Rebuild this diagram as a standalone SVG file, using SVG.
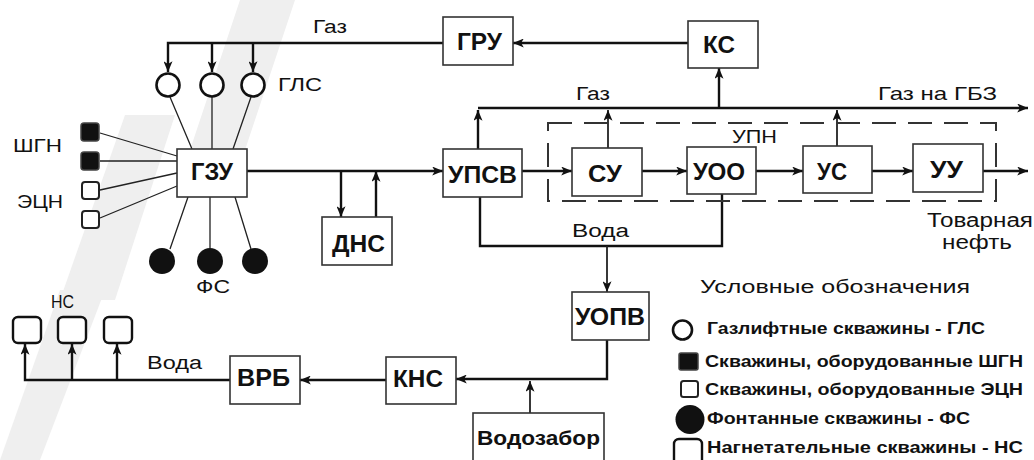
<svg xmlns="http://www.w3.org/2000/svg" width="1034" height="460" viewBox="0 0 1034 460">
<defs>
<marker id="ah" viewBox="0 0 12 10" refX="12" refY="5" markerWidth="11" markerHeight="9" markerUnits="userSpaceOnUse" orient="auto">
<path d="M0,0 L12,5 L0,10 L3,5 z" fill="#111"/>
</marker>
<style>
.box{fill:#fff;stroke:#333;stroke-width:1.6}
.lbl{font-family:"Liberation Sans",Arial,sans-serif;font-weight:bold;font-size:24px;fill:#111}
.txt{font-family:"Liberation Sans",Arial,sans-serif;font-size:18px;fill:#111}
.leg{font-family:"Liberation Sans",Arial,sans-serif;font-weight:bold;font-size:17px;fill:#111}
.ln{fill:none;stroke:#111;stroke-width:2.4}
.thin{fill:none;stroke:#222;stroke-width:1.3}
.arr{marker-end:url(#ah)}
.gls{fill:#fff;stroke:#111;stroke-width:2.6}
.fs{fill:#111}
.sq{fill:#111;stroke:#444;stroke-width:1.5}
.sqw{fill:#fff;stroke:#222;stroke-width:2}
.ns{fill:#fff;stroke:#111;stroke-width:2.4}
</style>
</defs>
<rect width="1034" height="460" fill="#fff"/>
<g id="watermark" fill="#efefef">
<polygon points="190,150 245,150 295,0 240,0"/>
<polygon points="60,300 115,300 175,115 125,115"/>
<polygon points="0,460 40,460 105,290 60,290"/>
</g>
<g id="connectors">
<path class="ln arr" d="M688,43 H513"/>
<path class="ln arr" d="M443,43 H168 V72"/>
<path class="ln arr" d="M212,43 V72"/>
<path class="ln arr" d="M253,43 V72"/>
<path class="thin" d="M170,97 L192,149 M212,97 V149 M251,97 L233,149"/>
<path class="thin" d="M100,133 L177,156 M100,161 H177 M100,190 L177,173 M100,218 L177,186"/>
<path class="thin" d="M188,197 L170,249 M210,197 V248 M235,197 L251,249"/>
<path class="ln arr" d="M247,171 H443"/>
<path class="ln arr" d="M341,171 V217"/>
<path class="ln arr" d="M376,217 V171"/>
<path class="ln arr" d="M478,108 H1028"/>
<path class="ln arr" d="M478,149 V110"/>
<path class="thin arr" d="M608,148 V110" style="stroke-width:1.8"/>
<path class="thin arr" d="M837,146 V110" style="stroke-width:1.8"/>
<path class="ln arr" d="M719,108 V68"/>
<path class="ln arr" d="M522,171 H572"/>
<path class="ln arr" d="M642,171 H687"/>
<path class="ln arr" d="M756,171 H803"/>
<path class="ln arr" d="M872,171 H913"/>
<path class="ln arr" d="M983,171 H1028"/>
<path class="ln" d="M480,197 V246 H722 V194"/>
<path class="thin arr" d="M607,246 V292" style="stroke-width:1.8"/>
<path class="ln arr" d="M607,340 V379 H456"/>
<path class="thin arr" d="M530,413 V381" style="stroke-width:1.8"/>
<path class="ln arr" d="M386,380 H300"/>
<path class="ln arr" d="M230,380 H25 V344"/>
<path class="ln arr" d="M72,380 V344"/>
<path class="ln arr" d="M117,380 V344"/>
<rect x="548" y="123" width="448" height="78" fill="none" stroke="#333" stroke-width="2" stroke-dasharray="24 12"/>
</g>
<g id="n-gru"><rect class="box" x="443" y="17" width="70" height="48"/><text class="lbl" x="457" y="50" textLength="45" lengthAdjust="spacingAndGlyphs">ГРУ</text></g>
<g id="n-ks"><rect class="box" x="688" y="21" width="70" height="47"/><text class="lbl" x="703" y="53" textLength="32" lengthAdjust="spacingAndGlyphs">КС</text></g>
<g id="n-gzu"><rect class="box" x="177" y="149" width="70" height="48"/><text class="lbl" x="191" y="180" textLength="42" lengthAdjust="spacingAndGlyphs">ГЗУ</text></g>
<g id="n-dns"><rect class="box" x="322" y="217" width="70" height="48"/><text class="lbl" x="332" y="252" textLength="53" lengthAdjust="spacingAndGlyphs">ДНС</text></g>
<g id="n-upsv"><rect class="box" x="443" y="149" width="79" height="48"/><text class="lbl" x="448" y="183" textLength="69" lengthAdjust="spacingAndGlyphs">УПСВ</text></g>
<g id="n-su"><rect class="box" x="572" y="148" width="70" height="48"/><text class="lbl" x="588" y="182" textLength="34" lengthAdjust="spacingAndGlyphs">СУ</text></g>
<g id="n-uoo"><rect class="box" x="687" y="147" width="69" height="47"/><text class="lbl" x="693" y="180" textLength="52" lengthAdjust="spacingAndGlyphs">УОО</text></g>
<g id="n-us"><rect class="box" x="803" y="146" width="69" height="47"/><text class="lbl" x="817" y="180" textLength="30" lengthAdjust="spacingAndGlyphs">УС</text></g>
<g id="n-uu"><rect class="box" x="913" y="144" width="70" height="48"/><text class="lbl" x="930" y="178" textLength="33" lengthAdjust="spacingAndGlyphs">УУ</text></g>
<g id="n-uopv"><rect class="box" x="572" y="292" width="77" height="48"/><text class="lbl" x="575" y="325" textLength="70" lengthAdjust="spacingAndGlyphs">УОПВ</text></g>
<g id="n-kns"><rect class="box" x="386" y="357" width="70" height="47"/><text class="lbl" x="393" y="387" textLength="50" lengthAdjust="spacingAndGlyphs">КНС</text></g>
<g id="n-vrb"><rect class="box" x="230" y="356" width="70" height="48"/><text class="lbl" x="237" y="386" textLength="53" lengthAdjust="spacingAndGlyphs">ВРБ</text></g>
<g id="n-vodozabor"><rect class="box" x="473" y="413" width="131" height="52"/><text class="lbl" x="477" y="445" style="font-size:21px" textLength="123" lengthAdjust="spacingAndGlyphs">Водозабор</text></g>
<g id="n-gls">
<circle class="gls" cx="168" cy="85" r="11.5"/><circle class="gls" cx="212" cy="85" r="11.5"/><circle class="gls" cx="253" cy="85" r="11.5"/>
<text class="txt" x="278" y="91" textLength="44" lengthAdjust="spacingAndGlyphs">ГЛС</text>
</g>
<g id="n-shgn">
<rect class="sq" x="81" y="123" width="18" height="18" rx="3"/><rect class="sq" x="81" y="152" width="18" height="18" rx="3"/>
<text class="txt" x="13" y="152" style="font-size:19px" textLength="49" lengthAdjust="spacingAndGlyphs">ШГН</text>
</g>
<g id="n-ecn">
<rect class="sqw" x="82" y="182" width="17" height="17" rx="3"/><rect class="sqw" x="82" y="211" width="17" height="17" rx="3"/>
<text class="txt" x="17" y="208" style="font-size:19px" textLength="46" lengthAdjust="spacingAndGlyphs">ЭЦН</text>
</g>
<g id="n-fs">
<circle class="fs" cx="162" cy="261" r="13"/><circle class="fs" cx="210" cy="261" r="13"/><circle class="fs" cx="255" cy="261" r="13"/>
<text class="txt" x="196" y="293" textLength="34" lengthAdjust="spacingAndGlyphs">ФС</text>
</g>
<g id="n-ns">
<rect class="ns" x="13" y="317" width="28" height="26" rx="5"/><rect class="ns" x="58" y="317" width="28" height="26" rx="5"/><rect class="ns" x="104" y="317" width="28" height="26" rx="5"/>
<text class="txt" x="51" y="308" textLength="23" lengthAdjust="spacingAndGlyphs">НС</text>
</g>
<g id="labels">
<text class="txt" x="313" y="33" textLength="34" lengthAdjust="spacingAndGlyphs">Газ</text>
<text class="txt" x="576" y="100" textLength="34" lengthAdjust="spacingAndGlyphs">Газ</text>
<text class="txt" x="878" y="100" style="font-size:19px" textLength="119" lengthAdjust="spacingAndGlyphs">Газ на ГБЗ</text>
<text class="txt" x="732" y="143" textLength="45" lengthAdjust="spacingAndGlyphs">УПН</text>
<text class="txt" x="572" y="237" textLength="57" lengthAdjust="spacingAndGlyphs">Вода</text>
<text class="txt" x="927" y="227" style="font-size:20px" textLength="106" lengthAdjust="spacingAndGlyphs">Товарная</text>
<text class="txt" x="942" y="249" style="font-size:20px" textLength="70" lengthAdjust="spacingAndGlyphs">нефть</text>
<text class="txt" x="147" y="369" textLength="55" lengthAdjust="spacingAndGlyphs">Вода</text>
</g>
<g id="legend">
<text class="txt" x="700" y="293" style="font-size:18px" textLength="270" lengthAdjust="spacingAndGlyphs">Условные обозначения</text>
<circle class="gls" cx="682.5" cy="330" r="9.5"/>
<text class="leg" x="707" y="334" textLength="278" lengthAdjust="spacingAndGlyphs">Газлифтные скважины - ГЛС</text>
<rect class="sq" x="679" y="353" width="19" height="17" rx="2"/>
<text class="leg" x="705" y="367" textLength="318" lengthAdjust="spacingAndGlyphs">Скважины, оборудованные ШГН</text>
<rect class="sqw" x="681" y="381" width="17" height="16" rx="2.5"/>
<text class="leg" x="705" y="395" textLength="318" lengthAdjust="spacingAndGlyphs">Скважины, оборудованные ЭЦН</text>
<circle class="fs" cx="690" cy="419.5" r="14.5"/>
<text class="leg" x="707" y="424" textLength="263" lengthAdjust="spacingAndGlyphs">Фонтанные скважины - ФС</text>
<rect class="ns" x="674" y="439" width="28" height="28" rx="5"/>
<text class="leg" x="707" y="453" textLength="316" lengthAdjust="spacingAndGlyphs">Нагнетательные скважины - НС</text>
</g>
</svg>
